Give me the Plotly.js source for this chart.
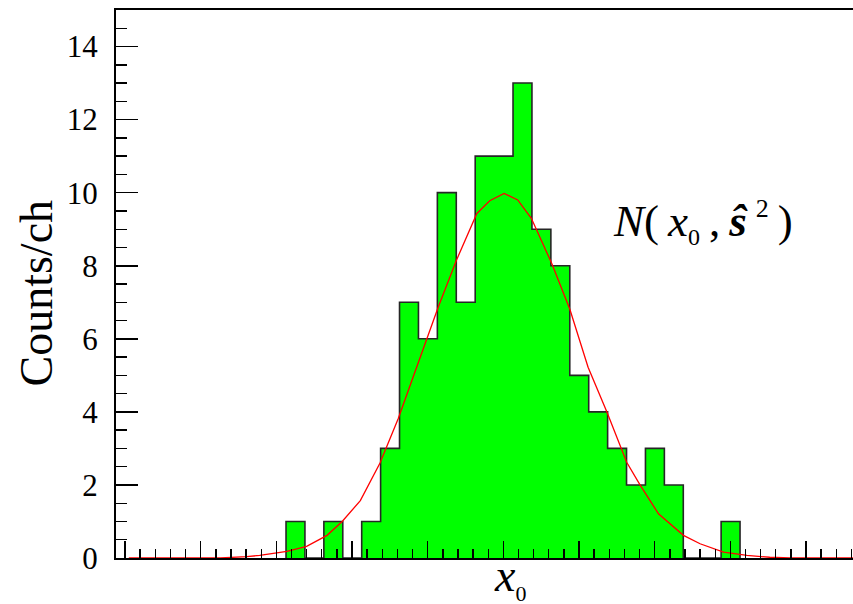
<!DOCTYPE html>
<html>
<head>
<meta charset="utf-8">
<script src="https://cdn.plot.ly/plotly-3.0.1.min.js"></script>
<style>
  html, body { margin: 0; padding: 0; overflow: hidden; background: #fff; }
  #chart { width: 900px; height: 604px; }
</style>
</head>
<body>
<div id="chart"></div>
<script>
// Histogram of x0: counts per channel, fixed-width channels
const binStart = 2.128;
const binWidth = 0.25;
const counts = [1, 0, 1, 0, 1, 3, 7, 6, 10, 7, 11, 11, 13, 9, 8, 5, 4, 3, 2, 3, 2, 0, 0, 1];

// Fitted normal curve N(x0, s^2), sampled along x
const curveX = [0.05, 1.26, 1.61, 1.78, 2.14, 2.40, 2.67, 2.87, 3.11, 3.37, 3.61, 3.99, 4.14,
                4.38, 4.65, 4.82, 5.01, 5.19, 5.37, 5.64, 5.88, 6.12, 6.37, 6.63, 6.81, 7.05,
                7.38, 7.60, 7.91, 8.22, 8.52, 8.79, 10.3];
const curveY = [0, 0, 0.04, 0.07, 0.18, 0.32, 0.62, 1.0, 1.57, 2.6, 3.81, 6.0, 6.87,
                8.15, 9.43, 9.78, 9.98, 9.8, 9.3, 8.06, 6.8, 5.22, 3.99, 2.62, 1.99, 1.21,
                0.62, 0.39, 0.16, 0.07, 0.02, 0, 0];

// y tick labels
const yTickVals = [0, 2, 4, 6, 8, 10, 12, 14];
const yTickText = ['0', '2', '4', '6', '8', '10', '12', '14'];

// Build the step outline: start at the baseline, one step per channel, back to baseline
const edges = counts.map((_, i) => binStart + i * binWidth);
edges.push(binStart + counts.length * binWidth);
const stepX = [edges[0]].concat(edges);
const stepY = [0].concat(counts).concat([0]);

const serif = 'Liberation Serif';
const thin = '\u2009';

const traces = [
  {
    type: 'scatter', mode: 'lines',
    x: stepX, y: stepY,
    line: { shape: 'hv', color: '#262626', width: 1.6 },
    fill: 'tozeroy', fillcolor: '#00ff00',
    hoverinfo: 'skip', showlegend: false
  },
  {
    type: 'scatter', mode: 'lines',
    x: curveX, y: curveY,
    line: { color: '#ff0000', width: 1.3 },
    hoverinfo: 'skip', showlegend: false
  }
];

const layout = {
  width: 900, height: 604,
  margin: { l: 116, r: 0, t: 10, b: 46, pad: 0 },
  paper_bgcolor: '#ffffff', plot_bgcolor: '#ffffff',
  showlegend: false,
  font: { family: serif, color: '#000' },
  xaxis: {
    range: [-0.119, 10.242],
    showgrid: false, zeroline: false,
    showline: true, linecolor: '#000', linewidth: 2, mirror: true,
    ticks: 'inside', tick0: 0, dtick: 1, ticklen: 17, tickwidth: 1.6, tickcolor: '#000',
    minor: { ticks: 'inside', dtick: 0.2, ticklen: 9, tickwidth: 1.4, tickcolor: '#000' },
    showticklabels: false
  },
  yaxis: {
    range: [0, 15],
    showgrid: false, zeroline: false,
    showline: true, linecolor: '#000', linewidth: 2, mirror: true,
    ticks: 'inside', tickmode: 'array', tickvals: yTickVals, ticktext: yTickText,
    ticklen: 22, tickwidth: 1.6, tickcolor: '#000',
    minor: { ticks: 'inside', dtick: 0.5, ticklen: 11, tickwidth: 1.4, tickcolor: '#000' },
    tickfont: { family: serif, size: 31, color: '#000' },
    ticklabelstandoff: 10
  },
  annotations: [
    {
      text: 'Counts/ch', textangle: -90,
      xref: 'paper', yref: 'paper', x: -0.102, y: 0.4827,
      xanchor: 'center', yanchor: 'middle', showarrow: false,
      font: { family: serif, size: 46, color: '#000' }
    },
    {
      text: '<i>x</i><sub><span style="font-size:22px">0</span></sub>',
      xref: 'paper', yref: 'paper', x: 0.5026, y: -0.036,
      xanchor: 'center', yanchor: 'middle', showarrow: false,
      font: { family: serif, size: 46, color: '#000' }
    },
    {
      text: '<i>N</i>(' + thin + '<i>x</i><sub><span style="font-size:24px">0</span></sub>' + thin +
            ',' + thin + '<b><i>ŝ</i></b>' + thin + '<sup><span style="font-size:26px">2</span></sup>' +
            thin + ')',
      xref: 'paper', yref: 'paper', x: 0.6314, y: 0.613,
      xanchor: 'left', yanchor: 'middle', showarrow: false,
      font: { family: serif, size: 45, color: '#000' }
    }
  ]
};

Plotly.newPlot('chart', traces, layout, { displayModeBar: false, staticPlot: true });
</script>
</body>
</html>
